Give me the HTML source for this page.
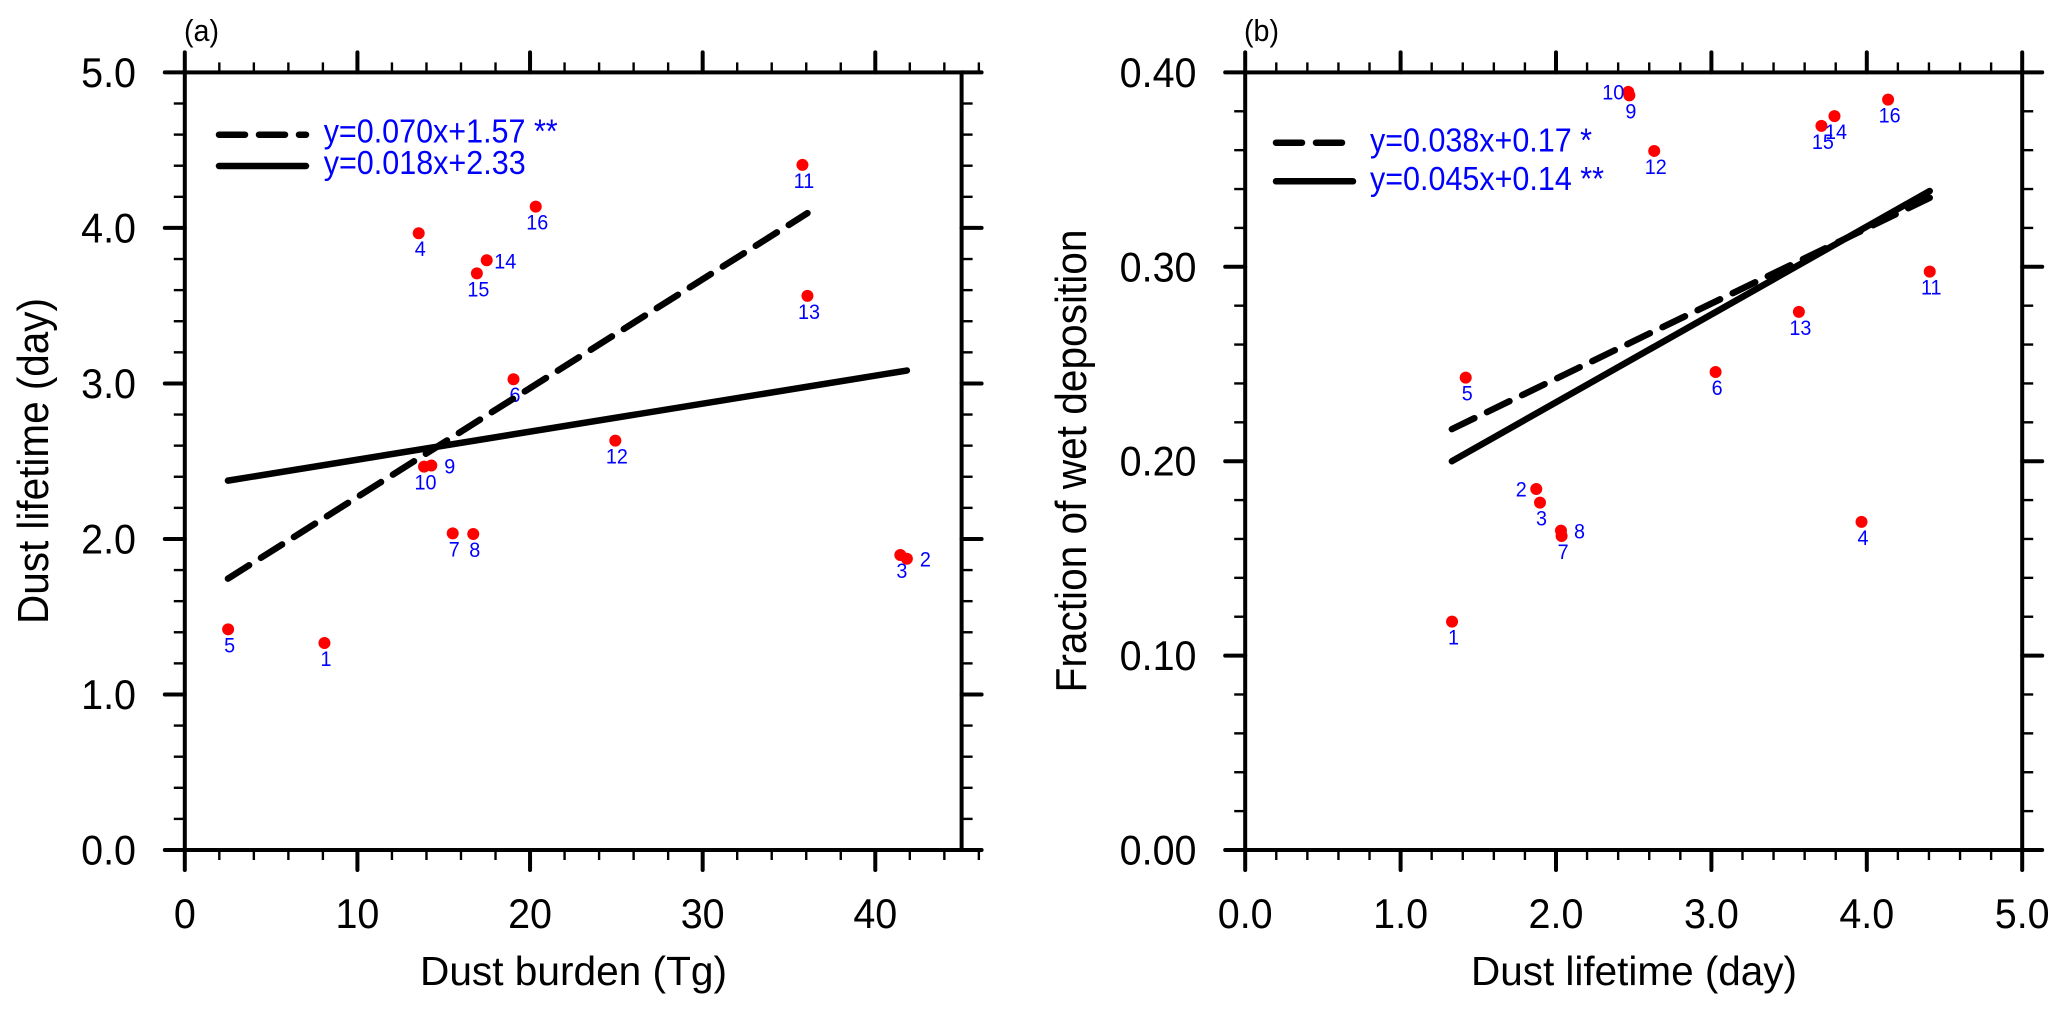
<!DOCTYPE html>
<html lang="en">
<head>
<meta charset="utf-8">
<title>Dust lifetime scatter plots</title>
<style>
html,body{margin:0;padding:0;background:#fff;}
svg{display:block;font-family:"Liberation Sans",Arial,sans-serif;}
</style>
</head>
<body>
<svg id="figure" width="2067" height="1012" viewBox="0 0 2067 1012" xmlns="http://www.w3.org/2000/svg">
  <rect width="2067" height="1012" fill="#fff"/>

  <g id="panel-a">
    <text x="184" y="41" font-size="31" textLength="35" lengthAdjust="spacingAndGlyphs">(a)</text>
    <text x="573.5" y="985" font-size="41" text-anchor="middle" textLength="307" lengthAdjust="spacingAndGlyphs">Dust burden (Tg)</text>
    <text transform="translate(48,461) rotate(-90)" font-size="44" text-anchor="middle" textLength="326" lengthAdjust="spacingAndGlyphs">Dust lifetime (day)</text>
    <line x1="219" y1="134.7" x2="306" y2="134.7" stroke="#000" stroke-width="6.5" stroke-linecap="round" stroke-dasharray="26 14"/>
    <line x1="219" y1="166" x2="306" y2="166" stroke="#000" stroke-width="6.5" stroke-linecap="round"/>
    <text x="323.7" y="142.7" font-size="33" fill="#0000ff" textLength="234" lengthAdjust="spacingAndGlyphs">y=0.070x+1.57 **</text>
    <text x="323.7" y="174" font-size="33" fill="#0000ff" textLength="202" lengthAdjust="spacingAndGlyphs">y=0.018x+2.33</text>
  </g>

  <g id="panel-b">
    <text x="1244" y="41" font-size="31" textLength="35" lengthAdjust="spacingAndGlyphs">(b)</text>
    <text x="1634" y="985" font-size="41" text-anchor="middle" textLength="326" lengthAdjust="spacingAndGlyphs">Dust lifetime (day)</text>
    <text transform="translate(1086,461) rotate(-90)" font-size="44" text-anchor="middle" textLength="463" lengthAdjust="spacingAndGlyphs">Fraction of wet deposition</text>
    <line x1="1276" y1="142.7" x2="1342" y2="142.7" stroke="#000" stroke-width="6.5" stroke-linecap="round" stroke-dasharray="26 14"/>
    <line x1="1276" y1="181.3" x2="1353" y2="181.3" stroke="#000" stroke-width="6.5" stroke-linecap="round"/>
    <text x="1370" y="151.7" font-size="33" fill="#0000ff" textLength="222" lengthAdjust="spacingAndGlyphs">y=0.038x+0.17 *</text>
    <text x="1370" y="190" font-size="33" fill="#0000ff" textLength="234" lengthAdjust="spacingAndGlyphs">y=0.045x+0.14 **</text>
  </g>
</svg>

<script>
// Data
const modelIds      = ["1","2","3","4","5","6","7","8","9","10","11","12","13","14","15","16"];
const dustBurden    = [8.09,41.83,41.45,13.55,2.51,19.04,15.52,16.71,14.28,13.86,35.78,24.94,36.07,17.49,16.92,20.33];
const dustLifetime  = [1.331,1.873,1.897,3.966,1.419,3.027,2.036,2.032,2.472,2.465,4.405,2.632,3.563,3.792,3.708,4.137];
const wetFraction   = [0.1175,0.1857,0.1787,0.1688,0.2430,0.2459,0.1615,0.1643,0.3882,0.3900,0.2975,0.3596,0.2768,0.3775,0.3725,0.3860];
const labelSideA    = ["below","right","below","below","below","below","below","below","right","below","below","below","below","right","below","below"];
const labelSideB    = ["below","left","below","below","below","below","below","right","below","left","below","below","below","below","below","below"];

const xTicksA       = [0,10,20,30,40];
const xTickLabelsA  = ["0","10","20","30","40"];
const yTicksA       = [0,1,2,3,4,5];
const yTickLabelsA  = ["0.0","1.0","2.0","3.0","4.0","5.0"];
const xTicksB       = [0,1,2,3,4,5];
const xTickLabelsB  = ["0.0","1.0","2.0","3.0","4.0","5.0"];
const yTicksB       = [0,0.1,0.2,0.3,0.4];
const yTickLabelsB  = ["0.00","0.10","0.20","0.30","0.40"];

const dashedFitXA   = [2.5,36.07];
const dashedFitYA   = [1.745,4.095];
const solidFitXA    = [2.5,41.83];
const solidFitYA    = [2.375,3.083];
const dashedFitXB   = [1.33,4.405];
const dashedFitYB   = [0.2165,0.3355];
const solidFitXB    = [1.33,4.405];
const solidFitYB    = [0.2,0.339];

const NS = "http://www.w3.org/2000/svg";

function make(parent, tag, attrs) {
  const el = document.createElementNS(NS, tag);
  for (const k in attrs) el.setAttribute(k, attrs[k]);
  parent.appendChild(el);
  return el;
}

function narrow(el, ratio) {
  el.setAttribute("textLength", el.getComputedTextLength() * ratio);
  el.setAttribute("lengthAdjust", "spacingAndGlyphs");
}

function drawPanel(cfg) {
  const g = document.getElementById(cfg.id);
  const sx = v => cfg.left + (v - cfg.xMin) / (cfg.xMax - cfg.xMin) * (cfg.right - cfg.left);
  const sy = v => cfg.bottom - (v - cfg.yMin) / (cfg.yMax - cfg.yMin) * (cfg.bottom - cfg.top);

  // minor ticks
  const nx = Math.round((cfg.xMax - cfg.xMin) / cfg.xMinor);
  for (let i = 0; i <= nx; i++) {
    const v = cfg.xMin + i * cfg.xMinor;
    const px = sx(v);
    [[cfg.bottom, cfg.bottom + 10], [cfg.top, cfg.top - 10]].forEach(function (p) {
      const t = make(g, "line", {x1: px, x2: px, y1: p[0], y2: p[1], stroke: "#000", "stroke-width": 2.4});
      
      
    });
  }
  const ny = Math.round((cfg.yMax - cfg.yMin) / cfg.yMinor);
  for (let i = 0; i <= ny; i++) {
    const v = cfg.yMin + i * cfg.yMinor;
    const py = sy(v);
    [[cfg.left, cfg.left - 11], [cfg.right, cfg.right + 11]].forEach(function (p) {
      const t = make(g, "line", {x1: p[0], x2: p[1], y1: py, y2: py, stroke: "#000", "stroke-width": 2.4});
      
      
    });
  }

  // major ticks and tick labels
  cfg.xTicks.forEach(function (v, i) {
    const px = sx(v);
    [[cfg.bottom, cfg.bottom + 20], [cfg.top, cfg.top - 20]].forEach(function (p) {
      const t = make(g, "line", {x1: px, x2: px, y1: p[0], y2: p[1], stroke: "#000", "stroke-width": 4, "stroke-linecap": "round"});
      
      
    });
    const lab = make(g, "text", {x: px, y: 928, "font-size": 42, "text-anchor": "middle"});
    
    
    lab.textContent = cfg.xTickLabels[i];
    narrow(lab, 0.94);
  });
  cfg.yTicks.forEach(function (v, i) {
    const py = sy(v);
    [[cfg.left, cfg.left - 20], [cfg.right, cfg.right + 20]].forEach(function (p) {
      const t = make(g, "line", {x1: p[0], x2: p[1], y1: py, y2: py, stroke: "#000", "stroke-width": 4, "stroke-linecap": "round"});
      
      
    });
    const lab = make(g, "text", {x: cfg.yLabelX, y: py + 14.5, "font-size": 42, "text-anchor": "end"});
    
    
    lab.textContent = cfg.yTickLabels[i];
    narrow(lab, 0.94);
  });

  // frame
  const frame = make(g, "rect", {x: cfg.left, y: cfg.top, width: cfg.right - cfg.left, height: cfg.bottom - cfg.top, fill: "none", stroke: "#000", "stroke-width": 4});
  
  

  // points and their number labels
  modelIds.forEach(function (id, i) {
    const px = sx(cfg.xs[i]);
    const py = sy(cfg.ys[i]);
    const dot = make(g, "circle", {cx: px, cy: py, r: 6, fill: "#ff0000"});
    
    
    const side = cfg.sides[i];
    let lx = px + 1.5, ly = py + 23;
    if (side === "right") { lx = px + 18.5; ly = py + 8; }
    if (side === "left")  { lx = px - 15;   ly = py + 7.5; }
    const lab = make(g, "text", {x: lx, y: ly, "font-size": 21.5, "text-anchor": "middle", fill: "#0000ff"});
    
    
    lab.textContent = id;
    narrow(lab, 0.92);
  });

  // regression lines
  const dashed = make(g, "line", {x1: sx(cfg.dashX[0]), y1: sy(cfg.dashY[0]), x2: sx(cfg.dashX[1]), y2: sy(cfg.dashY[1]), stroke: "#000", "stroke-width": 6.5, "stroke-linecap": "round", "stroke-dasharray": "25 14"});
  
  
  const solid = make(g, "line", {x1: sx(cfg.solidX[0]), y1: sy(cfg.solidY[0]), x2: sx(cfg.solidX[1]), y2: sy(cfg.solidY[1]), stroke: "#000", "stroke-width": 6.5, "stroke-linecap": "round"});
  
  
}

drawPanel({
  id: "panel-a", left: 184.8, right: 961.6, top: 72.4, bottom: 850,
  xMin: 0, xMax: 45, xMinor: 2, yMin: 0, yMax: 5, yMinor: 0.2, yLabelX: 136,
  xTicks: xTicksA, xTickLabels: xTickLabelsA, yTicks: yTicksA, yTickLabels: yTickLabelsA,
  xs: dustBurden, ys: dustLifetime, sides: labelSideA,
  dashX: dashedFitXA, dashY: dashedFitYA, solidX: solidFitXA, solidY: solidFitYA
});
drawPanel({
  id: "panel-b", left: 1245.2, right: 2022.2, top: 72.4, bottom: 850,
  xMin: 0, xMax: 5, xMinor: 0.2, yMin: 0, yMax: 0.4, yMinor: 0.02, yLabelX: 1196.5,
  xTicks: xTicksB, xTickLabels: xTickLabelsB, yTicks: yTicksB, yTickLabels: yTickLabelsB,
  xs: dustLifetime, ys: wetFraction, sides: labelSideB,
  dashX: dashedFitXB, dashY: dashedFitYB, solidX: solidFitXB, solidY: solidFitYB
});
</script>
</body>
</html>
